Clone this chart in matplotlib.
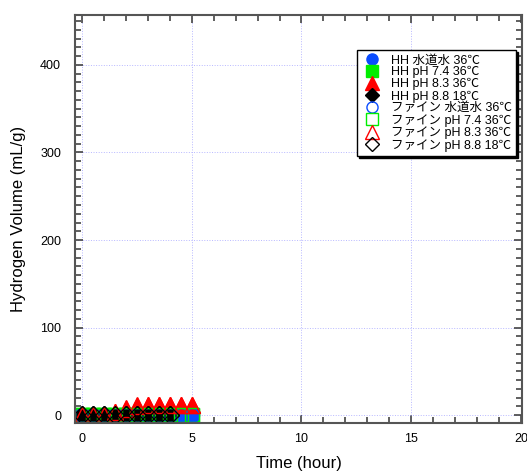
import numpy as np
import matplotlib
matplotlib.use('Agg')
import matplotlib.pyplot as plt
from matplotlib.ticker import MultipleLocator

plt.rcParams['font.family'] = ['Liberation Sans', 'Noto Sans CJK JP', 'DejaVu Sans']

# sampling times (hour)
t_full = [0, 0.5, 1, 1.5, 2, 2.5, 3, 3.5, 4, 4.5, 5]
t_short = [0, 0.5, 1, 1.5, 2, 2.5, 3, 3.5, 4]

# hydrogen volume (mL/g)
hh_tap = [0, 0, 0, 0, 0, 0, 0, 0, 0, 0, 0]
hh_ph74 = [0, 0, 0, 0, 0, 0, 0, 0, 0, 0, 0]
hh_ph83 = [0, 0, 0, 4, 8, 11, 12, 12, 12, 12, 12]
hh_ph88 = [0, 0, 0, 0, 0, 0, 0, 0, 0]
fine_tap = [0, 0, 0, 0, 0, 0, 0, 0, 0, 0, 0]
fine_ph74 = [0, 0, 0, 0, 0, 0, 0, 0, 0, 0, 0]
fine_ph83 = [0, 0, 0, 3, 7, 10, 11, 11, 11, 11, 11]
fine_ph88 = [0, 0, 0, 0, 0, 0, 0, 0, 0]

labels = ['HH 水道水 36℃', 'HH pH 7.4 36℃', 'HH pH 8.3 36℃', 'HH pH 8.8 18℃',
          'ファイン 水道水 36℃', 'ファイン pH 7.4 36℃', 'ファイン pH 8.3 36℃',
          'ファイン pH 8.8 18℃']

fig = plt.figure(figsize=(5.27, 4.73), dpi=100)
ax = fig.add_axes([75 / 527, 50 / 473, 447 / 527, 408 / 473])

ms = 10
# filled markers (HH); green squares sit underneath the rest
ax.plot(t_full, hh_tap, 'o', color='#0a4cff', ms=ms, label=labels[0], ls='none', zorder=2.1)
ax.plot(t_full, hh_ph74, 's', color='#00ee00', ms=ms, label=labels[1], ls='none', zorder=2.0)
ax.plot(t_full, hh_ph83, '^', color='#ff0000', ms=ms + 2, label=labels[2], ls='none', zorder=2.2)
ax.plot(t_short, hh_ph88, 'D', color='black', ms=ms - 1, label=labels[3], ls='none', zorder=2.3)
# open markers (fine)
ax.plot(t_full, fine_tap, 'o', mfc='none', mec='#0a4cff', ms=ms, label=labels[4], ls='none', zorder=2.4)
ax.plot(t_full, fine_ph74, 's', mfc='none', mec='#00ee00', ms=ms, label=labels[5], ls='none', zorder=2.4)
ax.plot(t_full, fine_ph83, '^', mfc='none', mec='#ff0000', ms=ms + 2, label=labels[6], ls='none', zorder=2.4)
ax.plot(t_short, fine_ph88, 'D', mfc='none', mec='black', ms=ms - 1, label=labels[7], ls='none', zorder=2.4)

ax.set_xlim(-0.32, 20.05)
ax.set_ylim(-9, 457)
ax.xaxis.set_major_locator(MultipleLocator(5))
ax.xaxis.set_minor_locator(MultipleLocator(1))
ax.yaxis.set_major_locator(MultipleLocator(100))
ax.yaxis.set_minor_locator(MultipleLocator(10))
ax.tick_params(which='both', direction='in', top=True, right=True,
               colors='#444444', labelcolor='black', labelsize=9, width=1.2)
ax.tick_params(axis='y', which='major', length=6, pad=10)
ax.tick_params(axis='x', which='major', length=6, pad=7)
ax.tick_params(which='minor', length=4)
for sp in ax.spines.values():
    sp.set_color('#555555')
    sp.set_linewidth(1.5)

ax.grid(True, which='major', ls=':', color='#b8b8ff', lw=0.7)
ax.set_axisbelow(True)

ax.set_xlabel('Time (hour)', fontsize=12, labelpad=8)
ax.set_ylabel('Hydrogen Volume (mL/g)', fontsize=12, labelpad=10)

leg = ax.legend(loc='upper right', bbox_to_anchor=(0.987, 0.914), borderaxespad=0,
                fontsize=9, frameon=True, fancybox=False, edgecolor='black',
                labelspacing=-0.02, handletextpad=0.6, borderpad=0.35,
                handlelength=1.8, markerscale=0.8,
                shadow={'color': 'black', 'alpha': 1.0, 'ox': 1.5, 'oy': -1.5})
leg.get_frame().set_linewidth(1.0)

fig.savefig('out.png', dpi=100)
